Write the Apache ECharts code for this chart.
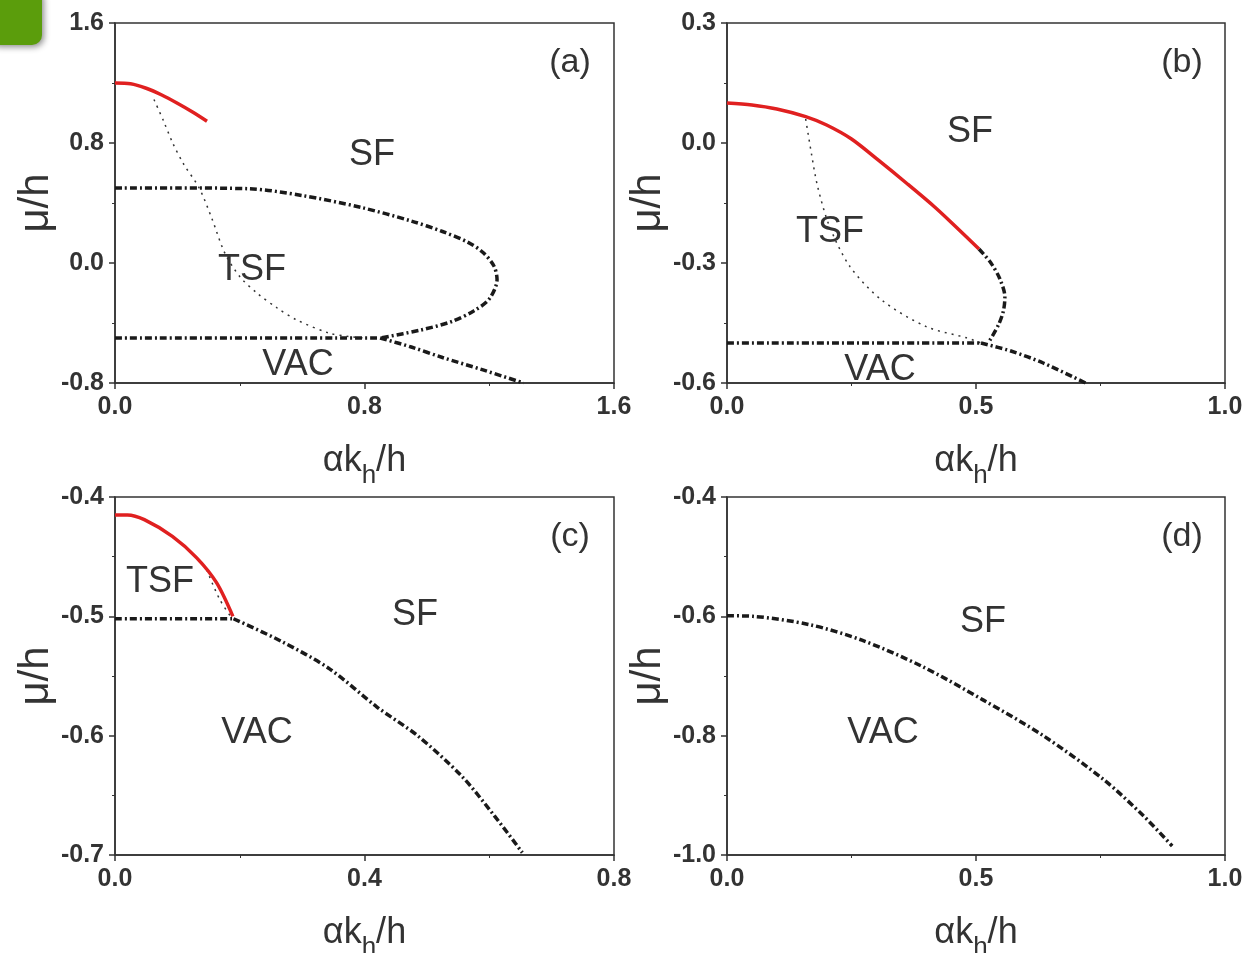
<!DOCTYPE html>
<html lang="en">
<head>
    <meta charset="UTF-8">
    <title>phase diagram</title>
    <script src="https://cdn.jsdelivr.net/npm/echarts@6/dist/echarts.min.js"></script>
    <style>
        html, body { margin: 0; padding: 0; background: #fff; }
        #main { width: 1252px; height: 953px; }
    </style>
</head>
<body>
<div id="main"></div>
<script>
    // panel (a)
    var aRed = [[0, 1.2], [0.05, 1.195], [0.1, 1.165], [0.15, 1.12], [0.2, 1.065], [0.25, 1.005], [0.295, 0.945]];
    var aDot = [[0.125, 1.09], [0.155, 0.95], [0.185, 0.8], [0.22, 0.66], [0.27, 0.5], [0.31, 0.3], [0.352, 0.067],
                [0.4, -0.09], [0.455, -0.2], [0.52, -0.3], [0.583, -0.38], [0.686, -0.467], [0.75, -0.49], [0.8, -0.5]];
    var aLoop = [[0, 0.5], [0.2, 0.5], [0.43, 0.495], [0.6, 0.45], [0.79, 0.37], [0.95, 0.28], [1.05, 0.21], [1.13, 0.14],
                 [1.18, 0.07], [1.215, -0.02], [1.225, -0.11], [1.2, -0.24], [1.15, -0.32], [1.08, -0.39], [0.98, -0.447], [0.85, -0.5]];
    var aFlat = [[0, -0.5], [0.85, -0.5]];
    var aDown = [[0.85, -0.5], [0.95, -0.56], [1.05, -0.63], [1.18, -0.713], [1.31, -0.8]];

    // panel (b)
    var bRed = [[0, 0.1], [0.05, 0.095], [0.1, 0.085], [0.158, 0.066], [0.2, 0.045], [0.25, 0.01], [0.304, -0.043],
                [0.36, -0.1], [0.417, -0.16], [0.46, -0.21], [0.506, -0.265]];
    var bNose = [[0.506, -0.265], [0.53, -0.3], [0.548, -0.34], [0.558, -0.385], [0.555, -0.42], [0.545, -0.455], [0.526, -0.497]];
    var bDot = [[0.158, 0.06], [0.17, -0.03], [0.182, -0.109], [0.206, -0.209], [0.247, -0.309], [0.311, -0.393],
                [0.4, -0.459], [0.481, -0.487], [0.51, -0.5]];
    var bFlat = [[0, -0.5], [0.51, -0.5]];
    var bDown = [[0.51, -0.5], [0.57, -0.52], [0.635, -0.55], [0.72, -0.6]];

    // panel (c)
    var cRed = [[0, -0.415], [0.02, -0.415], [0.047, -0.419], [0.092, -0.433], [0.131, -0.451], [0.163, -0.472], [0.189, -0.5]];
    var cDot = [[0.147, -0.461], [0.168, -0.486], [0.188, -0.502]];
    var cFlat = [[0, -0.502], [0.19, -0.502]];
    var cDown = [[0.19, -0.502], [0.267, -0.521], [0.344, -0.544], [0.42, -0.576], [0.485, -0.6], [0.556, -0.634],
                 [0.608, -0.667], [0.653, -0.698]];

    // panel (d)
    var dDown = [[0, -0.599], [0.052, -0.6], [0.166, -0.614], [0.271, -0.64], [0.392, -0.684], [0.514, -0.74],
                 [0.635, -0.8], [0.757, -0.874], [0.837, -0.935], [0.894, -0.985]];

    // axis ranges: [min, max, interval]
    var xRanges = [[0, 1.6, 0.8], [0, 1, 0.5], [0, 0.8, 0.4], [0, 1, 0.5]];
    var yRanges = [[-0.8, 1.6, 0.8], [-0.6, 0.3, 0.3], [-0.7, -0.4, 0.1], [-1.0, -0.4, 0.2]];
    var panelTags = ['(a)', '(b)', '(c)', '(d)'];

    var grids = [
        {left: 115, top: 23, width: 499, height: 360},
        {left: 727, top: 23, width: 498, height: 360},
        {left: 115, top: 497, width: 499, height: 358},
        {left: 727, top: 497, width: 498, height: 358}
    ];
    var yNameGaps = [50, 56, 50, 58];

    var axisColor = '#333';
    var tickFont = {fontFamily: 'Liberation Sans', fontWeight: 'bold', fontSize: 25, color: '#333'};

    var xAxes = [], yAxes = [];
    for (var i = 0; i < 4; i++) {
        grids[i].show = true;
        grids[i].borderColor = axisColor;
        grids[i].borderWidth = 1.5;
        grids[i].outerBoundsMode = 'none';
        grids[i].containLabel = false;
        xAxes.push({
            gridIndex: i, type: 'value',
            min: xRanges[i][0], max: xRanges[i][1], interval: xRanges[i][2],
            name: '{a|αk}{s|h}{a|/h}', nameLocation: 'middle', nameGap: 60,
            nameTextStyle: {rich: {
                a: {fontFamily: 'Liberation Sans', fontSize: 36, color: '#333'},
                s: {fontFamily: 'Liberation Sans', fontSize: 26, color: '#333', verticalAlign: 'bottom', padding: [0, 0, -10, 0]}
            }},
            axisLine: {onZero: false, lineStyle: {color: axisColor, width: 1.5}},
            axisTick: {length: 6, lineStyle: {color: axisColor, width: 1.5}},
            minorTick: {show: true, splitNumber: 2, length: 3, lineStyle: {color: axisColor}},
            splitLine: {show: false},
            axisLabel: Object.assign({margin: 12, formatter: function (v) { return v.toFixed(1); }}, tickFont)
        });
        yAxes.push({
            gridIndex: i, type: 'value',
            min: yRanges[i][0], max: yRanges[i][1], interval: yRanges[i][2],
            name: 'μ/h', nameLocation: 'middle', nameGap: yNameGaps[i], nameRotate: 90,
            nameTextStyle: {fontFamily: 'Liberation Sans', fontSize: 42, color: '#333'},
            axisLine: {onZero: false, lineStyle: {color: axisColor, width: 1.5}},
            axisTick: {length: 6, lineStyle: {color: axisColor, width: 1.5}},
            minorTick: {show: true, splitNumber: 2, length: 3, lineStyle: {color: axisColor}},
            splitLine: {show: false},
            axisLabel: Object.assign({margin: 11, formatter: function (v) { return v.toFixed(1); }}, tickFont)
        });
    }

    function red(idx, data) {
        return {type: 'line', xAxisIndex: idx, yAxisIndex: idx, data: data, showSymbol: false, smooth: 0.3,
                lineStyle: {color: '#e02020', width: 3.5}, z: 3};
    }
    function dashDot(idx, data) {
        return {type: 'line', xAxisIndex: idx, yAxisIndex: idx, data: data, showSymbol: false, smooth: 0.3,
                lineStyle: {color: '#1a1a1a', width: 3.5, type: [7, 3, 2, 3]}, z: 2};
    }
    function dotted(idx, data) {
        return {type: 'line', xAxisIndex: idx, yAxisIndex: idx, data: data, showSymbol: false, smooth: 0.3,
                lineStyle: {color: '#333', width: 1.5, type: [2, 5]}, z: 1};
    }

    var series = [
        red(0, aRed), dotted(0, aDot), dashDot(0, aLoop), dashDot(0, aFlat), dashDot(0, aDown),
        red(1, bRed), dashDot(1, bNose), dotted(1, bDot), dashDot(1, bFlat), dashDot(1, bDown),
        red(2, cRed), dotted(2, cDot), dashDot(2, cFlat), dashDot(2, cDown),
        dashDot(3, dDown)
    ];

    // region names and panel tags
    var regionLabels = [
        ['SF', 372, 155], ['TSF', 252, 270], ['VAC', 298, 365],
        ['SF', 970, 132], ['TSF', 830, 232], ['VAC', 880, 370],
        ['SF', 415, 615], ['TSF', 160, 582], ['VAC', 257, 733],
        ['SF', 983, 622], ['VAC', 883, 733]
    ];
    var tagPos = [[570, 63], [1182, 63], [570, 537], [1182, 537]];

    var graphics = [{
        type: 'rect', left: -12, top: -12, shape: {width: 54, height: 57, r: 10},
        style: {fill: '#5b9d0c', shadowBlur: 6, shadowColor: 'rgba(0,0,0,0.45)', shadowOffsetX: 2, shadowOffsetY: 2}
    }];
    regionLabels.forEach(function (l) {
        graphics.push({type: 'text', x: l[1], y: l[2],
            style: {text: l[0], font: '36px "Liberation Sans"', fill: '#333', align: 'center', verticalAlign: 'middle'}});
    });
    tagPos.forEach(function (p, i) {
        graphics.push({type: 'text', x: p[0], y: p[1],
            style: {text: panelTags[i], font: '34px "Liberation Sans"', fill: '#333', align: 'center', verticalAlign: 'middle'}});
    });

    var myChart = echarts.init(document.getElementById('main'));
    myChart.setOption({
        animation: false,
        grid: grids,
        xAxis: xAxes,
        yAxis: yAxes,
        series: series,
        graphic: graphics
    });
</script>
</body>
</html>
